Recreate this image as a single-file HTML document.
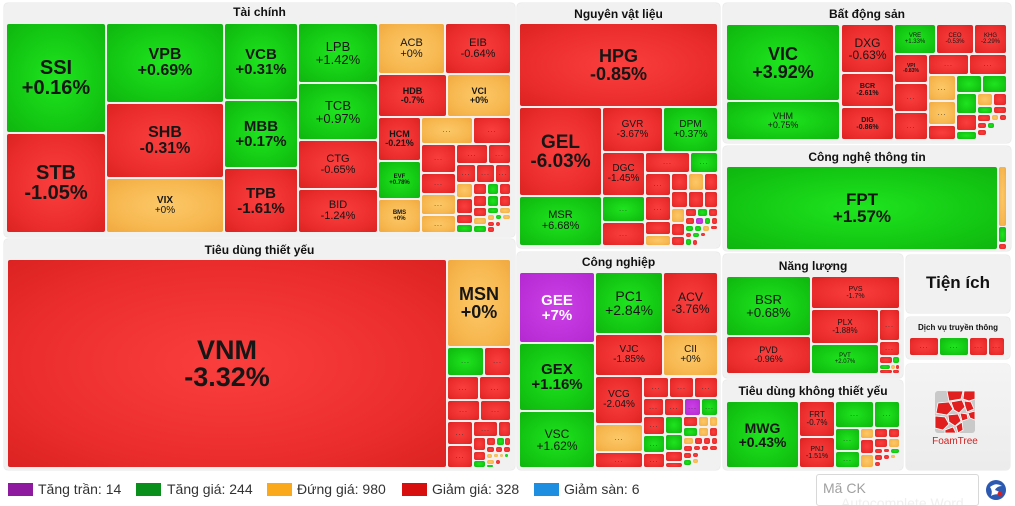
<!DOCTYPE html>
<html><head><meta charset="utf-8">
<style>
body{margin:0;width:1015px;height:500px;position:relative;overflow:hidden;background:#fff;font-family:"Liberation Sans",Arial,sans-serif;}
.pn{position:absolute;background:#f1f1f1;border-radius:4px;box-shadow:0 0 1px rgba(0,0,0,.3);}
.tt{position:absolute;text-align:center;font-weight:bold;font-size:12px;color:#111;height:16px;line-height:16px;white-space:nowrap;}
.t{position:absolute;display:flex;align-items:center;justify-content:center;text-align:center;font-weight:bold;color:#161616;line-height:1;border-radius:2px;overflow:hidden;white-space:nowrap;box-sizing:border-box;}
.t p{margin:0;}
.n{font-weight:normal;}
.g{background:radial-gradient(ellipse at 50% 50%,#1fe41f 0%,#13c713 65%,#0fb50f 100%);}
.r{background:radial-gradient(ellipse at 50% 50%,#fa3e3e 0%,#eb2d2d 65%,#dc2222 100%);}
.o{background:radial-gradient(ellipse at 50% 50%,#fcc868 0%,#f7b74f 65%,#f0a93f 100%);}
.p{background:radial-gradient(ellipse at 50% 50%,#cc40e8 0%,#b328d0 100%);}
.d::after{content:"...";font-size:7px;font-weight:normal;color:#333;letter-spacing:1px;}
.lg{position:absolute;top:483px;width:25px;height:13px;}
.lt{position:absolute;top:481px;font-size:14px;line-height:16px;color:#333;white-space:nowrap;}
</style></head><body>

<!-- Panels -->
<div class="pn" style="left:4px;top:3px;width:511px;height:234px"></div>
<div class="tt" style="left:4px;top:4px;width:511px">Tài chính</div>
<div class="pn" style="left:517px;top:3px;width:203px;height:245px"></div>
<div class="tt" style="left:517px;top:6px;width:203px">Nguyên vật liệu</div>
<div class="pn" style="left:723px;top:3px;width:288px;height:140px"></div>
<div class="tt" style="left:723px;top:6px;width:288px">Bất động sản</div>
<div class="pn" style="left:723px;top:146px;width:288px;height:105px"></div>
<div class="tt" style="left:723px;top:149px;width:288px">Công nghệ thông tin</div>
<div class="pn" style="left:4px;top:239px;width:511px;height:231px"></div>
<div class="tt" style="left:4px;top:242px;width:511px">Tiêu dùng thiết yếu</div>
<div class="pn" style="left:517px;top:252px;width:203px;height:218px"></div>
<div class="tt" style="left:517px;top:254px;width:203px">Công nghiệp</div>
<div class="pn" style="left:723px;top:254px;width:180px;height:124px"></div>
<div class="tt" style="left:723px;top:258px;width:180px">Năng lượng</div>
<div class="pn" style="left:723px;top:380px;width:180px;height:90px"></div>
<div class="tt" style="left:723px;top:383px;width:180px">Tiêu dùng không thiết yếu</div>
<div class="pn" style="left:906px;top:255px;width:104px;height:58px"></div>
<div class="tt" style="left:906px;top:272px;width:104px;font-size:17px;height:22px;line-height:22px">Tiện ích</div>
<div class="pn" style="left:906px;top:317px;width:104px;height:42px"></div>
<div class="tt" style="left:906px;top:320px;width:104px;font-size:8px">Dịch vụ truyền thông</div>
<div class="pn" style="left:906px;top:364px;width:104px;height:106px;background:linear-gradient(#f4f4f4,#ececec)"></div>

<!-- Tài chính -->
<div class="t g" style="left:7px;top:24px;width:98px;height:108px;font-size:20px"><p>SSI<br>+0.16%</p></div>
<div class="t r" style="left:7px;top:134px;width:98px;height:98px;font-size:20px"><p>STB<br>-1.05%</p></div>
<div class="t g" style="left:107px;top:24px;width:116px;height:78px;font-size:16px"><p>VPB<br>+0.69%</p></div>
<div class="t r" style="left:107px;top:104px;width:116px;height:73px;font-size:16px"><p>SHB<br>-0.31%</p></div>
<div class="t o" style="left:107px;top:179px;width:116px;height:53px;font-size:10px"><p>VIX<br><span class="n">+0%</span></p></div>
<div class="t g" style="left:225px;top:24px;width:72px;height:75px;font-size:15px"><p>VCB<br>+0.31%</p></div>
<div class="t g" style="left:225px;top:101px;width:72px;height:66px;font-size:15px"><p>MBB<br>+0.17%</p></div>
<div class="t r" style="left:225px;top:169px;width:72px;height:63px;font-size:15px"><p>TPB<br>-1.61%</p></div>
<div class="t g n" style="left:299px;top:24px;width:78px;height:58px;font-size:13px"><p>LPB<br>+1.42%</p></div>
<div class="t g n" style="left:299px;top:84px;width:78px;height:55px;font-size:13px"><p>TCB<br>+0.97%</p></div>
<div class="t r n" style="left:299px;top:141px;width:78px;height:47px;font-size:11px"><p>CTG<br>-0.65%</p></div>
<div class="t r n" style="left:299px;top:190px;width:78px;height:42px;font-size:11px"><p>BID<br>-1.24%</p></div>
<div class="t o n" style="left:379px;top:24px;width:65px;height:49px;font-size:11px"><p>ACB<br>+0%</p></div>
<div class="t r n" style="left:446px;top:24px;width:64px;height:49px;font-size:11px"><p>EIB<br>-0.64%</p></div>
<div class="t r" style="left:379px;top:75px;width:67px;height:41px;font-size:9px"><p>HDB<br>-0.7%</p></div>
<div class="t o" style="left:448px;top:75px;width:62px;height:41px;font-size:9px"><p>VCI<br>+0%</p></div>
<div class="t r" style="left:379px;top:118px;width:41px;height:42px;font-size:9px"><p>HCM<br>-0.21%</p></div>
<div class="t g" style="left:379px;top:162px;width:41px;height:36px;font-size:6px"><p>EVF<br>+0.78%</p></div>
<div class="t o" style="left:379px;top:200px;width:41px;height:32px;font-size:6px"><p>BMS<br>+0%</p></div>
<div class="t o d" style="left:422px;top:118px;width:50px;height:25px"></div>
<div class="t r d" style="left:474px;top:118px;width:36px;height:25px"></div>
<div class="t r d" style="left:422px;top:145px;width:33px;height:27px"></div>
<div class="t r d" style="left:457px;top:145px;width:30px;height:18px"></div>
<div class="t r d" style="left:489px;top:145px;width:21px;height:18px"></div>
<div class="t r d" style="left:457px;top:165px;width:18px;height:17px"></div>
<div class="t r d" style="left:477px;top:165px;width:17px;height:17px"></div>
<div class="t r d" style="left:496px;top:165px;width:14px;height:17px"></div>
<div class="t r d" style="left:422px;top:174px;width:33px;height:19px"></div>
<div class="t o d" style="left:422px;top:195px;width:33px;height:19px"></div>
<div class="t o d" style="left:422px;top:216px;width:33px;height:16px"></div>
<div class="t o" style="left:457px;top:184px;width:15px;height:13px"></div>
<div class="t r" style="left:474px;top:184px;width:12px;height:10px"></div>
<div class="t g" style="left:488px;top:184px;width:10px;height:10px"></div>
<div class="t r" style="left:500px;top:184px;width:10px;height:10px"></div>
<div class="t r" style="left:457px;top:199px;width:15px;height:14px"></div>
<div class="t r" style="left:474px;top:196px;width:12px;height:10px"></div>
<div class="t g" style="left:488px;top:196px;width:10px;height:10px"></div>
<div class="t r" style="left:500px;top:196px;width:10px;height:10px"></div>
<div class="t r" style="left:474px;top:208px;width:12px;height:8px"></div>
<div class="t g" style="left:488px;top:208px;width:10px;height:5px"></div>
<div class="t o" style="left:500px;top:208px;width:10px;height:5px"></div>
<div class="t r" style="left:457px;top:215px;width:15px;height:8px"></div>
<div class="t o" style="left:474px;top:218px;width:12px;height:6px"></div>
<div class="t o" style="left:488px;top:215px;width:6px;height:5px"></div>
<div class="t g" style="left:496px;top:215px;width:5px;height:4px"></div>
<div class="t o" style="left:503px;top:215px;width:7px;height:4px"></div>
<div class="t g" style="left:457px;top:225px;width:15px;height:7px"></div>
<div class="t g" style="left:474px;top:226px;width:12px;height:6px"></div>
<div class="t r" style="left:488px;top:222px;width:6px;height:4px"></div>
<div class="t r" style="left:488px;top:227px;width:6px;height:5px"></div>
<div class="t r" style="left:496px;top:222px;width:4px;height:4px"></div>

<!-- Nguyên vật liệu -->
<div class="t r" style="left:520px;top:24px;width:197px;height:82px;font-size:18px"><p>HPG<br>-0.85%</p></div>
<div class="t r" style="left:520px;top:108px;width:81px;height:87px;font-size:19px"><p>GEL<br>-6.03%</p></div>
<div class="t g n" style="left:520px;top:197px;width:81px;height:48px;font-size:11px"><p>MSR<br>+6.68%</p></div>
<div class="t r n" style="left:603px;top:108px;width:59px;height:43px;font-size:10px"><p>GVR<br>-3.67%</p></div>
<div class="t g n" style="left:664px;top:108px;width:53px;height:43px;font-size:10px"><p>DPM<br>+0.37%</p></div>
<div class="t r n" style="left:603px;top:153px;width:41px;height:42px;font-size:10px"><p>DGC<br>-1.45%</p></div>
<div class="t g d" style="left:603px;top:197px;width:41px;height:24px"></div>
<div class="t r d" style="left:603px;top:223px;width:41px;height:22px"></div>
<div class="t r d" style="left:646px;top:153px;width:43px;height:19px"></div>
<div class="t g d" style="left:691px;top:153px;width:26px;height:19px"></div>
<div class="t r d" style="left:646px;top:174px;width:24px;height:21px"></div>
<div class="t r" style="left:672px;top:174px;width:15px;height:16px"></div>
<div class="t o" style="left:689px;top:174px;width:14px;height:16px"></div>
<div class="t r" style="left:705px;top:174px;width:12px;height:16px"></div>
<div class="t r" style="left:672px;top:192px;width:15px;height:15px"></div>
<div class="t r" style="left:689px;top:192px;width:14px;height:15px"></div>
<div class="t r" style="left:705px;top:192px;width:12px;height:15px"></div>
<div class="t r d" style="left:646px;top:197px;width:24px;height:23px"></div>
<div class="t r" style="left:646px;top:222px;width:24px;height:12px"></div>
<div class="t o" style="left:646px;top:236px;width:24px;height:9px"></div>
<div class="t o" style="left:672px;top:209px;width:12px;height:13px"></div>
<div class="t r" style="left:672px;top:224px;width:12px;height:11px"></div>
<div class="t r" style="left:672px;top:237px;width:12px;height:8px"></div>
<div class="t r" style="left:686px;top:209px;width:10px;height:7px"></div>
<div class="t g" style="left:698px;top:209px;width:9px;height:7px"></div>
<div class="t r" style="left:709px;top:209px;width:8px;height:7px"></div>
<div class="t r" style="left:686px;top:218px;width:8px;height:6px"></div>
<div class="t p" style="left:696px;top:218px;width:7px;height:6px"></div>
<div class="t g" style="left:705px;top:218px;width:5px;height:6px"></div>
<div class="t r" style="left:712px;top:218px;width:5px;height:6px"></div>
<div class="t g" style="left:686px;top:226px;width:7px;height:5px"></div>
<div class="t g" style="left:695px;top:226px;width:6px;height:5px"></div>
<div class="t o" style="left:703px;top:226px;width:6px;height:5px"></div>
<div class="t r" style="left:711px;top:226px;width:6px;height:3px"></div>
<div class="t r" style="left:686px;top:233px;width:5px;height:4px"></div>
<div class="t g" style="left:693px;top:233px;width:6px;height:4px"></div>
<div class="t r" style="left:701px;top:233px;width:4px;height:3px"></div>
<div class="t g" style="left:686px;top:239px;width:5px;height:6px"></div>
<div class="t r" style="left:693px;top:240px;width:4px;height:5px"></div>

<!-- Bất động sản -->
<div class="t g" style="left:727px;top:25px;width:112px;height:75px;font-size:18px"><p>VIC<br>+3.92%</p></div>
<div class="t g n" style="left:727px;top:102px;width:112px;height:37px;font-size:9px"><p>VHM<br>+0.75%</p></div>
<div class="t r n" style="left:842px;top:25px;width:51px;height:47px;font-size:12px"><p>DXG<br>-0.63%</p></div>
<div class="t r" style="left:842px;top:74px;width:51px;height:32px;font-size:7px"><p>BCR<br>-2.61%</p></div>
<div class="t r" style="left:842px;top:108px;width:51px;height:31px;font-size:7px"><p>DIG<br>-0.86%</p></div>
<div class="t g n" style="left:895px;top:25px;width:40px;height:28px;font-size:6px"><p>VRE<br>+1.33%</p></div>
<div class="t r n" style="left:937px;top:25px;width:36px;height:28px;font-size:6px"><p>CEO<br>-0.53%</p></div>
<div class="t r n" style="left:975px;top:25px;width:31px;height:28px;font-size:6px"><p>KHG<br>-2.29%</p></div>
<div class="t r" style="left:895px;top:55px;width:32px;height:27px;font-size:5px"><p>VPI<br>-0.83%</p></div>
<div class="t r d" style="left:929px;top:55px;width:39px;height:19px"></div>
<div class="t r d" style="left:970px;top:55px;width:36px;height:19px"></div>
<div class="t r d" style="left:895px;top:84px;width:32px;height:27px"></div>
<div class="t r d" style="left:895px;top:113px;width:32px;height:26px"></div>
<div class="t o d" style="left:929px;top:76px;width:26px;height:24px"></div>
<div class="t o d" style="left:929px;top:102px;width:26px;height:22px"></div>
<div class="t r" style="left:929px;top:126px;width:26px;height:13px"></div>
<div class="t g" style="left:957px;top:76px;width:24px;height:16px"></div>
<div class="t g" style="left:983px;top:76px;width:23px;height:16px"></div>
<div class="t g" style="left:957px;top:94px;width:19px;height:19px"></div>
<div class="t o" style="left:978px;top:94px;width:14px;height:11px"></div>
<div class="t r" style="left:994px;top:94px;width:12px;height:11px"></div>
<div class="t g" style="left:978px;top:107px;width:14px;height:6px"></div>
<div class="t r" style="left:994px;top:107px;width:12px;height:6px"></div>
<div class="t r" style="left:957px;top:115px;width:19px;height:15px"></div>
<div class="t r" style="left:978px;top:115px;width:12px;height:6px"></div>
<div class="t o" style="left:992px;top:115px;width:6px;height:5px"></div>
<div class="t r" style="left:1000px;top:115px;width:6px;height:5px"></div>
<div class="t r" style="left:978px;top:123px;width:8px;height:5px"></div>
<div class="t g" style="left:988px;top:123px;width:6px;height:5px"></div>
<div class="t g" style="left:957px;top:132px;width:19px;height:7px"></div>
<div class="t r" style="left:978px;top:130px;width:8px;height:5px"></div>

<!-- CNTT -->
<div class="t g" style="left:727px;top:167px;width:270px;height:82px;font-size:17px"><p>FPT<br>+1.57%</p></div>
<div class="t o" style="left:999px;top:167px;width:7px;height:59px"></div>
<div class="t g" style="left:999px;top:227px;width:7px;height:15px"></div>
<div class="t r" style="left:999px;top:244px;width:7px;height:5px"></div>

<!-- Tiêu dùng thiết yếu -->
<div class="t r" style="left:8px;top:260px;width:438px;height:207px;font-size:27px"><p>VNM<br>-3.32%</p></div>
<div class="t o" style="left:448px;top:260px;width:62px;height:86px;font-size:18px"><p>MSN<br>+0%</p></div>
<div class="t g d" style="left:448px;top:348px;width:35px;height:27px"></div>
<div class="t r d" style="left:485px;top:348px;width:25px;height:27px"></div>
<div class="t r d" style="left:448px;top:377px;width:30px;height:22px"></div>
<div class="t r d" style="left:480px;top:377px;width:30px;height:22px"></div>
<div class="t r d" style="left:448px;top:401px;width:31px;height:19px"></div>
<div class="t r d" style="left:481px;top:401px;width:29px;height:19px"></div>
<div class="t r d" style="left:448px;top:422px;width:24px;height:22px"></div>
<div class="t r d" style="left:474px;top:422px;width:23px;height:14px"></div>
<div class="t r" style="left:499px;top:422px;width:11px;height:14px"></div>
<div class="t r d" style="left:448px;top:446px;width:24px;height:21px"></div>
<div class="t r" style="left:474px;top:438px;width:11px;height:12px"></div>
<div class="t r" style="left:474px;top:452px;width:11px;height:8px"></div>
<div class="t g" style="left:474px;top:461px;width:11px;height:6px"></div>
<div class="t r" style="left:487px;top:438px;width:8px;height:7px"></div>
<div class="t g" style="left:497px;top:438px;width:7px;height:7px"></div>
<div class="t r" style="left:505px;top:438px;width:5px;height:7px"></div>
<div class="t r" style="left:487px;top:447px;width:7px;height:5px"></div>
<div class="t r" style="left:496px;top:447px;width:6px;height:5px"></div>
<div class="t r" style="left:504px;top:447px;width:6px;height:5px"></div>
<div class="t o" style="left:487px;top:454px;width:5px;height:4px"></div>
<div class="t o" style="left:494px;top:454px;width:4px;height:3px"></div>
<div class="t o" style="left:500px;top:454px;width:3px;height:3px"></div>
<div class="t g" style="left:505px;top:454px;width:3px;height:3px"></div>
<div class="t o" style="left:487px;top:460px;width:7px;height:4px"></div>
<div class="t g" style="left:487px;top:465px;width:6px;height:2px"></div>
<div class="t r" style="left:496px;top:460px;width:4px;height:4px"></div>

<!-- Công nghiệp -->
<div class="t p" style="left:520px;top:273px;width:74px;height:69px;font-size:15px;color:#fff"><p>GEE<br>+7%</p></div>
<div class="t g" style="left:520px;top:344px;width:74px;height:66px;font-size:15px"><p>GEX<br>+1.16%</p></div>
<div class="t g n" style="left:520px;top:412px;width:74px;height:55px;font-size:12px"><p>VSC<br>+1.62%</p></div>
<div class="t g n" style="left:596px;top:273px;width:66px;height:60px;font-size:14px"><p>PC1<br>+2.84%</p></div>
<div class="t r n" style="left:664px;top:273px;width:53px;height:60px;font-size:12px"><p>ACV<br>-3.76%</p></div>
<div class="t r n" style="left:596px;top:335px;width:66px;height:40px;font-size:10px"><p>VJC<br>-1.85%</p></div>
<div class="t o n" style="left:664px;top:335px;width:53px;height:40px;font-size:10px"><p>CII<br>+0%</p></div>
<div class="t r n" style="left:596px;top:377px;width:46px;height:46px;font-size:10px"><p>VCG<br>-2.04%</p></div>
<div class="t o d" style="left:596px;top:425px;width:46px;height:26px"></div>
<div class="t r d" style="left:596px;top:453px;width:46px;height:14px"></div>
<div class="t r d" style="left:644px;top:378px;width:24px;height:19px"></div>
<div class="t r d" style="left:670px;top:378px;width:23px;height:19px"></div>
<div class="t r d" style="left:695px;top:378px;width:22px;height:19px"></div>
<div class="t r d" style="left:644px;top:399px;width:19px;height:16px"></div>
<div class="t r d" style="left:665px;top:399px;width:18px;height:16px"></div>
<div class="t p d" style="left:685px;top:399px;width:15px;height:16px"></div>
<div class="t g d" style="left:702px;top:399px;width:15px;height:16px"></div>
<div class="t r d" style="left:644px;top:417px;width:20px;height:17px"></div>
<div class="t g d" style="left:644px;top:436px;width:20px;height:16px"></div>
<div class="t r d" style="left:644px;top:454px;width:20px;height:13px"></div>
<div class="t g" style="left:666px;top:417px;width:16px;height:16px"></div>
<div class="t g" style="left:666px;top:435px;width:16px;height:15px"></div>
<div class="t r" style="left:666px;top:452px;width:16px;height:9px"></div>
<div class="t r" style="left:666px;top:463px;width:16px;height:4px"></div>
<div class="t r" style="left:684px;top:417px;width:13px;height:9px"></div>
<div class="t o" style="left:699px;top:417px;width:9px;height:9px"></div>
<div class="t o" style="left:710px;top:417px;width:7px;height:9px"></div>
<div class="t g" style="left:684px;top:428px;width:13px;height:8px"></div>
<div class="t o" style="left:699px;top:428px;width:9px;height:8px"></div>
<div class="t r" style="left:710px;top:428px;width:7px;height:8px"></div>
<div class="t o" style="left:684px;top:438px;width:9px;height:6px"></div>
<div class="t r" style="left:695px;top:438px;width:7px;height:6px"></div>
<div class="t r" style="left:704px;top:438px;width:6px;height:6px"></div>
<div class="t r" style="left:712px;top:438px;width:5px;height:6px"></div>
<div class="t r" style="left:684px;top:446px;width:8px;height:5px"></div>
<div class="t r" style="left:694px;top:446px;width:6px;height:4px"></div>
<div class="t r" style="left:702px;top:446px;width:6px;height:4px"></div>
<div class="t r" style="left:710px;top:446px;width:7px;height:4px"></div>
<div class="t r" style="left:684px;top:453px;width:7px;height:5px"></div>
<div class="t r" style="left:693px;top:453px;width:5px;height:4px"></div>
<div class="t g" style="left:684px;top:460px;width:7px;height:5px"></div>
<div class="t o" style="left:693px;top:459px;width:5px;height:4px"></div>

<!-- Năng lượng -->
<div class="t g n" style="left:727px;top:277px;width:83px;height:58px;font-size:13px"><p>BSR<br>+0.68%</p></div>
<div class="t r n" style="left:727px;top:337px;width:83px;height:36px;font-size:9px"><p>PVD<br>-0.96%</p></div>
<div class="t r n" style="left:812px;top:277px;width:87px;height:31px;font-size:7px"><p>PVS<br>-1.7%</p></div>
<div class="t r n" style="left:812px;top:310px;width:66px;height:33px;font-size:8px"><p>PLX<br>-1.88%</p></div>
<div class="t g n" style="left:812px;top:345px;width:66px;height:28px;font-size:6px"><p>PVT<br>+2.07%</p></div>
<div class="t r d" style="left:880px;top:310px;width:19px;height:30px"></div>
<div class="t r d" style="left:880px;top:342px;width:19px;height:13px"></div>
<div class="t r" style="left:880px;top:357px;width:12px;height:6px"></div>
<div class="t g" style="left:893px;top:357px;width:6px;height:6px"></div>
<div class="t g" style="left:880px;top:365px;width:10px;height:4px"></div>
<div class="t o" style="left:891px;top:365px;width:4px;height:4px"></div>
<div class="t r" style="left:896px;top:365px;width:3px;height:4px"></div>
<div class="t r" style="left:880px;top:370px;width:12px;height:3px"></div>
<div class="t r" style="left:893px;top:370px;width:6px;height:3px"></div>

<!-- Tiêu dùng không thiết yếu -->
<div class="t g" style="left:727px;top:402px;width:71px;height:65px;font-size:14px"><p>MWG<br>+0.43%</p></div>
<div class="t r n" style="left:800px;top:402px;width:34px;height:34px;font-size:8px"><p>FRT<br>-0.7%</p></div>
<div class="t r n" style="left:800px;top:438px;width:34px;height:29px;font-size:7px"><p>PNJ<br>-1.51%</p></div>
<div class="t g d" style="left:836px;top:402px;width:37px;height:25px"></div>
<div class="t g d" style="left:875px;top:402px;width:24px;height:25px"></div>
<div class="t g d" style="left:836px;top:429px;width:23px;height:21px"></div>
<div class="t g d" style="left:836px;top:452px;width:23px;height:15px"></div>
<div class="t o" style="left:861px;top:429px;width:12px;height:9px"></div>
<div class="t r" style="left:861px;top:440px;width:12px;height:13px"></div>
<div class="t o" style="left:861px;top:455px;width:12px;height:12px"></div>
<div class="t r" style="left:875px;top:429px;width:12px;height:8px"></div>
<div class="t r" style="left:889px;top:429px;width:10px;height:8px"></div>
<div class="t r" style="left:875px;top:439px;width:12px;height:8px"></div>
<div class="t o" style="left:889px;top:439px;width:10px;height:8px"></div>
<div class="t r" style="left:875px;top:449px;width:7px;height:4px"></div>
<div class="t r" style="left:884px;top:449px;width:5px;height:3px"></div>
<div class="t g" style="left:891px;top:449px;width:8px;height:4px"></div>
<div class="t r" style="left:875px;top:455px;width:7px;height:5px"></div>
<div class="t r" style="left:884px;top:455px;width:5px;height:4px"></div>
<div class="t o" style="left:891px;top:455px;width:4px;height:3px"></div>
<div class="t r" style="left:875px;top:462px;width:5px;height:4px"></div>

<!-- Dịch vụ truyền thông -->
<div class="t r d" style="left:910px;top:338px;width:28px;height:17px"></div>
<div class="t g d" style="left:940px;top:338px;width:28px;height:17px"></div>
<div class="t r d" style="left:970px;top:338px;width:17px;height:17px"></div>
<div class="t r d" style="left:989px;top:338px;width:15px;height:17px"></div>

<!-- FoamTree logo -->
<svg style="position:absolute;left:925px;top:391px" width="60" height="58" viewBox="0 0 60 58">
<g transform="translate(10,0)">
<rect x="0" y="0" width="40" height="42" rx="3" fill="#c9c9c9"/>
<g fill="#e11f1f" stroke="#fff" stroke-width="0.8">
<polygon points="12,0 28,0 26,8 14,10"/>
<polygon points="29,0 40,0 40,8 34,10 28,8"/>
<polygon points="3,12 14,11 18,18 12,24 1,22"/>
<polygon points="16,11 27,9 30,16 24,22 19,19"/>
<polygon points="29,10 36,11 39,18 32,21 30,15"/>
<polygon points="33,22 40,20 40,29 35,27"/>
<polygon points="0,25 10,26 14,33 8,39 0,37"/>
<polygon points="13,24 23,23 26,30 20,35 14,31"/>
<polygon points="25,22 32,23 33,28 27,30"/>
<polygon points="10,39 18,36 21,42 10,42"/>
<polygon points="21,35 27,31 28,39 23,42"/>
</g>
</g>
<text x="30" y="53" text-anchor="middle" font-family="Liberation Sans, sans-serif" font-size="10" fill="#d42020">FoamTree</text>
</svg>

<!-- Legend -->
<div class="lg" style="left:8px;background:#8e1aa0"></div><div class="lt" style="left:38px">Tăng trần: 14</div>
<div class="lg" style="left:136px;background:#0b8f1c"></div><div class="lt" style="left:167px">Tăng giá: 244</div>
<div class="lg" style="left:267px;background:#fba91c"></div><div class="lt" style="left:297px">Đứng giá: 980</div>
<div class="lg" style="left:402px;background:#d80f0f"></div><div class="lt" style="left:432px">Giảm giá: 328</div>
<div class="lg" style="left:534px;background:#1e8ee0"></div><div class="lt" style="left:564px">Giảm sàn: 6</div>

<!-- Search input -->
<div style="position:absolute;left:816px;top:474px;width:161px;height:30px;border:1px solid #d8d8d8;border-radius:3px;background:#fff;overflow:hidden">
<div style="position:absolute;left:6px;top:5px;font-size:14px;color:#a0a0a0;white-space:nowrap">Mã CK</div>
<div style="position:absolute;left:24px;top:20px;font-size:14px;color:#efefef;white-space:nowrap">Autocomplete Word</div>
</div>
<svg style="position:absolute;left:985px;top:479px" width="22" height="22" viewBox="0 0 22 22">
<circle cx="11" cy="11" r="10" fill="#2b58b0"/>
<path d="M5,8 Q11,3 17,7 Q12,7 10,11 Q14,12 17,16 Q10,14 6,17 Q8,12 5,8Z" fill="#fff"/>
<circle cx="15" cy="15" r="2.5" fill="#d42020"/>
</svg>

</body></html>
